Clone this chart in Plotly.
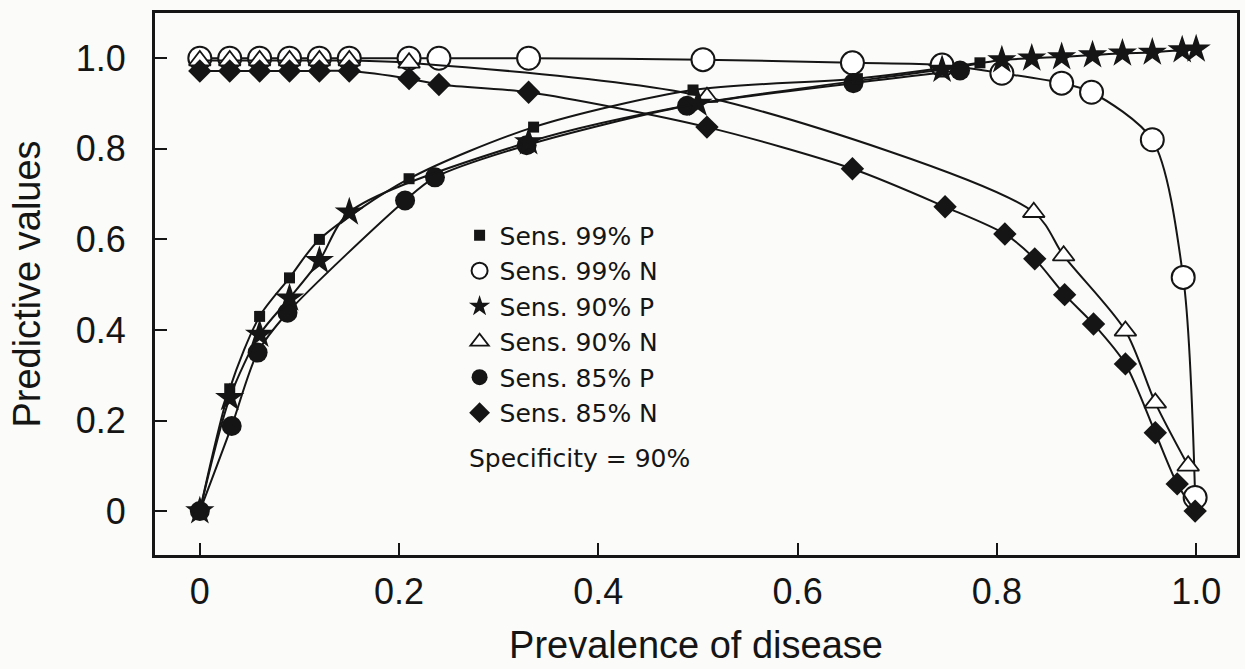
import plotly.graph_objects as go

# ---- data ----
# Sens. 99% P (filled squares)
p99_x = [0.0, 0.03, 0.06, 0.09, 0.12, 0.21, 0.335, 0.495, 0.66, 0.783]
p99_y = [0.0, 0.27, 0.43, 0.515, 0.60, 0.734, 0.848, 0.93, 0.955, 0.99]
# Sens. 99% N (open circles)
n99_x = [0.0, 0.03, 0.06, 0.09, 0.12, 0.15, 0.21, 0.24, 0.33, 0.505, 0.655, 0.745, 0.805, 0.865, 0.895, 0.956, 0.987, 0.999]
n99_y = [1.0, 1.0, 1.0, 1.0, 1.0, 1.0, 1.0, 1.0, 1.0, 0.997, 0.99, 0.985, 0.967, 0.945, 0.925, 0.82, 0.516, 0.03]
# Sens. 90% P (stars)
p90_x = [0.0, 0.03, 0.06, 0.09, 0.12, 0.15, 0.33, 0.50, 0.745, 0.805, 0.835, 0.865, 0.896, 0.926, 0.956, 0.986, 1.0]
p90_y = [0.0, 0.25, 0.39, 0.47, 0.553, 0.66, 0.815, 0.90, 0.975, 0.996, 1.0, 1.003, 1.007, 1.011, 1.013, 1.018, 1.02]
# Sens. 90% N (open triangles)
n90_x = [0.0, 0.03, 0.06, 0.09, 0.12, 0.15, 0.21, 0.509, 0.837, 0.867, 0.929, 0.959, 0.992]
n90_y = [0.995, 0.995, 0.995, 0.995, 0.995, 0.995, 0.99, 0.914, 0.66, 0.564, 0.398, 0.239, 0.10]
# Sens. 85% P (filled circles)
p85_x = [0.0, 0.032, 0.058, 0.088, 0.206, 0.236, 0.328, 0.489, 0.656, 0.763]
p85_y = [0.0, 0.188, 0.35, 0.438, 0.686, 0.737, 0.808, 0.895, 0.945, 0.973]
# Sens. 85% N (filled diamonds)
n85_x = [0.0, 0.03, 0.06, 0.09, 0.12, 0.15, 0.21, 0.24, 0.33, 0.509, 0.655, 0.748, 0.808, 0.838, 0.868, 0.897, 0.929, 0.959, 0.981, 0.999]
n85_y = [0.972, 0.972, 0.972, 0.972, 0.972, 0.972, 0.955, 0.942, 0.925, 0.848, 0.756, 0.672, 0.612, 0.557, 0.478, 0.413, 0.325, 0.173, 0.06, 0.0]

labels = ["Sens. 99% P", "Sens. 99% N", "Sens. 90% P", "Sens. 90% N", "Sens. 85% P", "Sens. 85% N"]
tick_vals = [0, 0.2, 0.4, 0.6, 0.8, 1.0]
tick_text = ["0", "0.2", "0.4", "0.6", "0.8", "1.0"]

INK = "#151515"
BG = "#fbfbf9"
FONT = "Liberation Sans, Arial, sans-serif"
LEG_FONT = "DejaVu Sans, Liberation Sans, sans-serif"

styles = {
    "Sens. 99% P": dict(symbol="square", size=11, color=INK, line=dict(width=0)),
    "Sens. 99% N": dict(symbol="circle", size=23, color="white", line=dict(width=2, color=INK)),
    "Sens. 90% P": dict(symbol="star", size=22, color=INK, line=dict(width=0)),
    "Sens. 90% N": dict(symbol="triangle-up", size=19, color="white", line=dict(width=1.8, color=INK)),
    "Sens. 85% P": dict(symbol="circle", size=20, color=INK, line=dict(width=0)),
    "Sens. 85% N": dict(symbol="diamond", size=18, color=INK, line=dict(width=0)),
}

series = {
    "Sens. 99% P": (p99_x, p99_y),
    "Sens. 99% N": (n99_x, n99_y),
    "Sens. 90% P": (p90_x, p90_y),
    "Sens. 90% N": (n90_x, n90_y),
    "Sens. 85% P": (p85_x, p85_y),
    "Sens. 85% N": (n85_x, n85_y),
}

draw_order = ["Sens. 99% N", "Sens. 90% N", "Sens. 85% N", "Sens. 85% P", "Sens. 99% P", "Sens. 90% P"]

fig = go.Figure()
for name in draw_order:
    xs, ys = series[name]
    fig.add_trace(go.Scatter(
        x=xs, y=ys, mode="lines+markers", name=name, showlegend=False,
        line=dict(color=INK, width=2, shape="spline", smoothing=0.8),
        marker=styles[name], cliponaxis=False,
    ))

# legend entries (symbols only)
for name in labels:
    fig.add_trace(go.Scatter(
        x=[None], y=[None], mode="markers", name=name, showlegend=True,
        marker=styles[name],
    ))

fig.add_annotation(
    x=0.268, y=0.117, xref="x", yref="y", xanchor="left", yanchor="middle",
    text="Specificity = 90%", showarrow=False,
    font=dict(family=LEG_FONT, size=25, color=INK),
)

axis_common = dict(
    showline=True, linewidth=3, linecolor=INK, mirror=True,
    ticks="inside", ticklen=12, tickwidth=2, tickcolor=INK,
    showgrid=False, zeroline=False, automargin=False,
    tickvals=tick_vals, ticktext=tick_text,
    tickfont=dict(family=FONT, size=36, color=INK),
)

fig.update_layout(
    width=1245, height=669,
    margin=dict(l=155, r=8, t=13, b=114),
    paper_bgcolor=BG, plot_bgcolor=BG,
    font=dict(family=FONT, color=INK),
    xaxis=dict(axis_common, range=[-0.045, 1.041],
               ticklabelstandoff=3,
               title=dict(text="Prevalence of disease", standoff=21,
                          font=dict(family=FONT, size=38, color=INK))),
    yaxis=dict(axis_common, range=[-0.097, 1.1],
               ticklabelstandoff=19,
               title=dict(text="Predictive values", standoff=24,
                          font=dict(family=FONT, size=38, color=INK))),
    legend=dict(x=0.2815, y=0.632, xanchor="left", yanchor="top",
                bgcolor="rgba(0,0,0,0)", borderwidth=0,
                font=dict(family=LEG_FONT, size=25, color=INK),
                itemwidth=30, tracegroupgap=0),
    showlegend=True,
)

fig.write_html("out.html")
